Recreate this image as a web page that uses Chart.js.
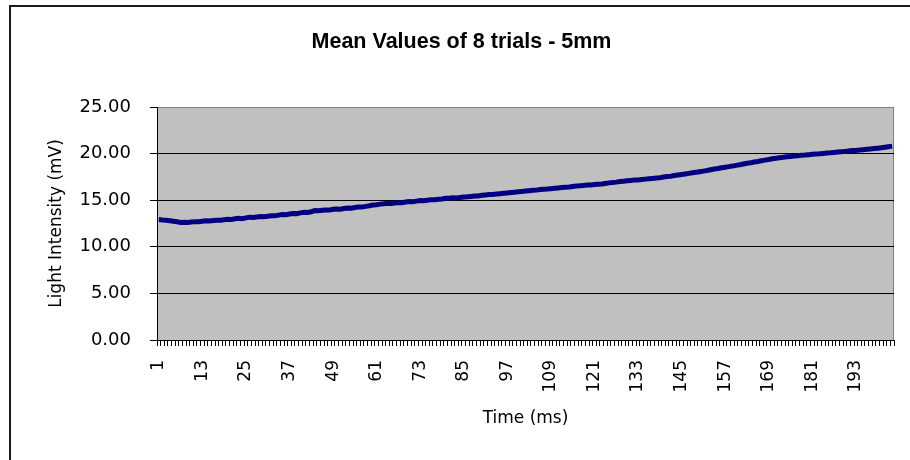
<!DOCTYPE html>
<html>
<head>
<meta charset="utf-8">
<script src="https://cdn.jsdelivr.net/npm/chart.js@4"></script>
<style>
  html, body { margin: 0; padding: 0; background: #fff; }
  #wrap { position: relative; width: 910px; height: 460px; overflow: hidden; }
  #frame { position: absolute; left: 9px; top: 5px; right: -10px; bottom: -10px;
           border-top: 2px solid #1a1a1a; border-left: 2px solid #1a1a1a; pointer-events: none; }
  canvas { position: absolute; left: 0; top: 0; }
</style>
</head>
<body>
<div id="wrap">
  <canvas id="c" width="910" height="460"></canvas>
  <div id="frame"></div>
</div>
<script>
const chartTitle = 'Mean Values of 8 trials - 5mm';
const xTitle = 'Time (ms)';
const yTitle = 'Light Intensity (mV)';
const xTickLabels = ['1','13','25','37','49','61','73','85','97','109','121','133','145','157','169','181','193'];
const yTicks = [0, 5, 10, 15, 20, 25];

const meanValues = [
  12.92, 12.88, 12.85, 12.80, 12.74, 12.68, 12.62, 12.64, 12.60, 12.66,
  12.70, 12.68, 12.74, 12.80, 12.76, 12.82, 12.86, 12.84, 12.90, 12.95,
  12.93, 13.00, 13.05, 13.02, 13.10, 13.18, 13.15, 13.20, 13.24, 13.22,
  13.28, 13.34, 13.32, 13.40, 13.46, 13.44, 13.52, 13.58, 13.56, 13.64,
  13.70, 13.68, 13.76, 13.88, 13.86, 13.92, 13.96, 13.94, 14.02, 14.06,
  14.04, 14.10, 14.16, 14.14, 14.22, 14.28, 14.26, 14.34, 14.40, 14.48,
  14.52, 14.58, 14.62, 14.66, 14.64, 14.70, 14.76, 14.74, 14.80, 14.86,
  14.84, 14.90, 14.96, 14.94, 15.00, 15.06, 15.04, 15.10, 15.14, 15.20,
  15.22, 15.26, 15.24, 15.30, 15.34, 15.36, 15.40, 15.44, 15.46, 15.52,
  15.56, 15.60, 15.62, 15.66, 15.70, 15.74, 15.78, 15.82, 15.86, 15.90,
  15.94, 15.98, 16.02, 16.06, 16.08, 16.14, 16.18, 16.20, 16.24, 16.28,
  16.32, 16.36, 16.40, 16.42, 16.48, 16.52, 16.54, 16.58, 16.62, 16.64,
  16.68, 16.72, 16.74, 16.80, 16.86, 16.90, 16.94, 17.00, 17.04, 17.08,
  17.12, 17.16, 17.18, 17.22, 17.26, 17.30, 17.34, 17.38, 17.42, 17.48,
  17.54, 17.58, 17.64, 17.70, 17.76, 17.82, 17.88, 17.94, 18.00, 18.06,
  18.12, 18.18, 18.26, 18.34, 18.40, 18.48, 18.54, 18.60, 18.66, 18.74,
  18.80, 18.88, 18.96, 19.02, 19.10, 19.16, 19.24, 19.30, 19.36, 19.44,
  19.50, 19.56, 19.60, 19.66, 19.70, 19.74, 19.78, 19.82, 19.84, 19.88,
  19.92, 19.96, 19.98, 20.02, 20.06, 20.08, 20.12, 20.16, 20.20, 20.24,
  20.28, 20.32, 20.34, 20.38, 20.42, 20.46, 20.50, 20.54, 20.58, 20.62,
  20.68, 20.74, 20.80
];
const categories = meanValues.map((_, i) => String(i + 1));

const plotBg = {
  id: 'plotBg',
  beforeDraw(chart) {
    const {ctx, chartArea: a} = chart;
    ctx.save();
    ctx.fillStyle = '#c0c0c0';
    ctx.fillRect(a.left, a.top, a.right - a.left, a.bottom - a.top);
    ctx.strokeStyle = '#808080';
    ctx.lineWidth = 1;
    ctx.beginPath();
    ctx.moveTo(a.left, a.top + 0.5);
    ctx.lineTo(a.right - 0.5, a.top + 0.5);
    ctx.lineTo(a.right - 0.5, a.bottom);
    ctx.stroke();
    ctx.restore();
  }
};

new Chart(document.getElementById('c'), {
  type: 'line',
  data: {
    labels: categories,
    datasets: [{
      data: meanValues,
      borderColor: '#000080',
      borderWidth: 5,
      pointRadius: 0,
      tension: 0,
      fill: false
    }]
  },
  options: {
    responsive: false,
    animation: false,
    layout: { padding: { left: 14, right: 1, top: 0, bottom: 0 } },
    plugins: {
      legend: { display: false },
      tooltip: { enabled: false },
      title: {
        display: true,
        text: chartTitle,
        color: '#000',
        font: { family: 'Liberation Sans', size: 21.5, weight: 'bold' },
        padding: { top: 29.1, bottom: 52.1 }
      }
    },
    scales: {
      x: {
        type: 'category',
        offset: true,
        afterFit: (s) => { s.height = 120; s.paddingLeft = 0; s.paddingRight = 16; },
        border: { color: '#000', width: 1 },
        grid: {
          offset: true,
          drawOnChartArea: false,
          drawTicks: true,
          tickLength: 6,
          tickColor: '#000',
          color: '#000'
        },
        ticks: {
          autoSkip: false,
          maxRotation: 90,
          minRotation: 90,
          padding: 14,
          color: '#000',
          font: { family: 'DejaVu Sans', size: 17 },
          callback: (v, i) => xTickLabels.includes(categories[i]) ? categories[i] : ''
        },
        title: {
          display: true,
          text: xTitle,
          color: '#000',
          font: { family: 'DejaVu Sans', size: 17 },
          padding: { top: 0, bottom: 30.8 }
        }
      },
      y: {
        min: 0,
        max: 25,
        afterFit: (s) => { s.width = 143; },
        afterBuildTicks: (s) => { s.ticks = yTicks.map(v => ({ value: v })); },
        border: { color: '#000', width: 1 },
        grid: {
          color: (ctx) => (ctx.tick && ctx.tick.value === 25) ? '#808080' : '#000',
          lineWidth: 1,
          drawTicks: true,
          tickLength: 7,
          tickColor: '#000'
        },
        ticks: {
          padding: 19,
          color: '#000',
          font: { family: 'DejaVu Sans', size: 18 },
          callback: (v) => Number(v).toFixed(2)
        },
        title: {
          display: true,
          text: yTitle,
          color: '#000',
          font: { family: 'DejaVu Sans', size: 17 },
          padding: { top: 32.8, bottom: 0 }
        }
      }
    }
  },
  plugins: [plotBg]
});
</script>
</body>
</html>
